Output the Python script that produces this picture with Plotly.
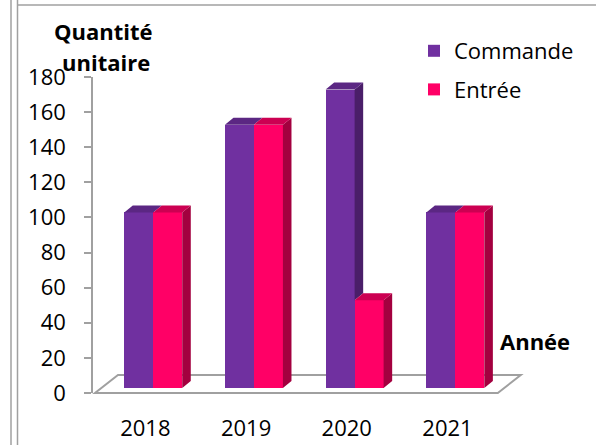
import plotly.graph_objects as go

# ---- data -------------------------------------------------------------
years = ["2018", "2019", "2020", "2021"]
commande = [100, 150, 170, 100]
entree = [100, 150, 50, 100]
y_ticks = [0, 20, 40, 60, 80, 100, 120, 140, 160, 180]

# ---- styling ----------------------------------------------------------
CMD = dict(front="#7030A0", top="#5B2783", side="#4A1E69")
ENT = dict(front="#FF0066", top="#CC0052", side="#A3003F")
GRID = "#A0A0A0"
FONT = "Open Sans"

X_RANGE = [-0.52, 3.78]
Y_RANGE = [0, 180]

BAR_W = 0.288      # width of one column front face (category units)
DEPTH_X = 0.085    # oblique depth of a column, x component
DEPTH_Y = 4.0      # oblique depth of a column, y component
LIFT = 2.85        # columns stand a little behind the front edge of the floor
FLOOR_X = 0.228    # depth of the floor, x component
FLOOR_Y = 10.25    # depth of the floor, y component
OFF_CMD = -0.066
OFF_ENT = 0.222

W, H = 596, 445
M = dict(l=93, r=70, t=77, b=52)
PW = W - M["l"] - M["r"]
PH = H - M["t"] - M["b"]


def fx(v):
    return (v - X_RANGE[0]) / (X_RANGE[1] - X_RANGE[0])


def fy(v):
    return (v - Y_RANGE[0]) / (Y_RANGE[1] - Y_RANGE[0])


def px_x(p):
    return (p - M["l"]) / PW


def px_y(p):
    return (H - M["b"] - p) / PH


def faces(xc, vals, neighbour=None):
    """Top and right-side faces of the columns centred at xc."""
    tx, ty, sx, sy = [], [], [], []
    for i, (c, v) in enumerate(zip(xc, vals)):
        xl, xr = c - BAR_W / 2, c + BAR_W / 2
        top = LIFT + v
        tx += [xl, xl + DEPTH_X, xr + DEPTH_X, xr, xl, None]
        ty += [top, top + DEPTH_Y, top + DEPTH_Y, top, top, None]
        # the side face is hidden by the column standing right next to it
        low = LIFT if neighbour is None else min(top, LIFT + neighbour[i])
        if top > low:
            sx += [xr, xr + DEPTH_X, xr + DEPTH_X, xr, xr, None]
            sy += [low, low + DEPTH_Y, top + DEPTH_Y, top, low, None]
    return tx, ty, sx, sy


x_cmd = [i + OFF_CMD for i in range(len(years))]
x_ent = [i + OFF_ENT for i in range(len(years))]

fig = go.Figure()

for name, xc, vals, col in [
    ("Commande", x_cmd, commande, CMD),
    ("Entrée", x_ent, entree, ENT),
]:
    fig.add_trace(go.Bar(
        x=xc, y=vals, base=LIFT, width=BAR_W, name=name,
        marker=dict(color=col["front"], line=dict(width=0)),
        legendgroup=name, hoverinfo="skip",
    ))

# faces are drawn after all fronts, left series first
for xc, vals, col, nb in [
    (x_cmd, commande, CMD, entree),
    (x_ent, entree, ENT, None),
]:
    tx, ty, sx, sy = faces(xc, vals, nb)
    if sx:
        fig.add_trace(go.Scatter(
            x=sx, y=sy, mode="lines", fill="toself", fillcolor=col["side"],
            line=dict(width=0, color=col["side"]), showlegend=False, hoverinfo="skip",
        ))
    fig.add_trace(go.Scatter(
        x=tx, y=ty, mode="lines", fill="toself", fillcolor=col["top"],
        line=dict(width=0, color=col["top"]), showlegend=False, hoverinfo="skip",
    ))

# ---- floor ---------------------------------------------------------------
x0, x1 = -0.5, len(years) - 0.5
floor = (
    f"M {fx(x0)},{fy(0)} L {fx(x1)},{fy(0)} "
    f"L {fx(x1 + FLOOR_X)},{fy(FLOOR_Y)} L {fx(x0 + FLOOR_X)},{fy(FLOOR_Y)} Z"
)
shapes = [
    dict(type="path", xref="paper", yref="paper", path=floor, layer="below",
         line=dict(color=GRID, width=2)),
    # page borders
    dict(type="line", xref="paper", yref="paper", x0=px_x(11), x1=px_x(11),
         y0=px_y(0), y1=px_y(H), line=dict(color=GRID, width=1.5)),
    dict(type="line", xref="paper", yref="paper", x0=px_x(17.5), x1=px_x(17.5),
         y0=px_y(0), y1=px_y(H), line=dict(color=GRID, width=1.5)),
    dict(type="line", xref="paper", yref="paper", x0=px_x(18), x1=px_x(W),
         y0=px_y(5), y1=px_y(5), line=dict(color=GRID, width=1.5)),
]

TITLE_FONT = dict(family=FONT, size=22, color="black")
annotations = [
    dict(text="<b>Quantité</b>", xref="paper", yref="paper",
         x=px_x(103), y=px_y(31), xanchor="center", yanchor="middle",
         showarrow=False, font=TITLE_FONT),
    dict(text="<b>unitaire</b>", xref="paper", yref="paper",
         x=px_x(106), y=px_y(62), xanchor="center", yanchor="middle",
         showarrow=False, font=TITLE_FONT),
    dict(text="<b>Année</b>", xref="paper", yref="paper",
         x=px_x(535), y=px_y(341), xanchor="center", yanchor="middle",
         showarrow=False, font=TITLE_FONT),
]

fig.update_layout(
    width=W, height=H, margin=dict(M, autoexpand=False),
    paper_bgcolor="white", plot_bgcolor="rgba(0,0,0,0)",
    barmode="overlay", bargap=0,
    font=dict(family=FONT, size=22, color="black"),
    shapes=shapes, annotations=annotations,
    showlegend=True,
    legend=dict(
        x=px_x(414), y=px_y(30), xanchor="left", yanchor="top",
        font=dict(family=FONT, size=22, color="black"),
        bgcolor="rgba(0,0,0,0)", traceorder="grouped", tracegroupgap=7,
        itemclick=False, itemdoubleclick=False,
    ),
    xaxis=dict(
        range=X_RANGE, tickvals=list(range(len(years))), ticktext=years,
        ticks="", showline=False, showgrid=False, zeroline=False,
        ticklabelstandoff=20, fixedrange=True, automargin=False,
    ),
    xaxis2=dict(
        overlaying="x", anchor="y", side="bottom", range=X_RANGE,
        tickvals=[i - 0.5 for i in range(len(years) + 1)],
        ticks="outside", ticklen=9, tickwidth=1.5, tickcolor=GRID,
        showticklabels=False, showline=False, showgrid=False, zeroline=False,
        automargin=False,
    ),
    yaxis=dict(
        range=Y_RANGE, tickvals=y_ticks, ticks="outside", ticklen=7,
        tickwidth=1.5, tickcolor=GRID, showline=True, linecolor=GRID,
        linewidth=1.5, showgrid=False, zeroline=False, ticklabelstandoff=14,
        fixedrange=True, automargin=False,
    ),
)

fig.write_html("out.html")
